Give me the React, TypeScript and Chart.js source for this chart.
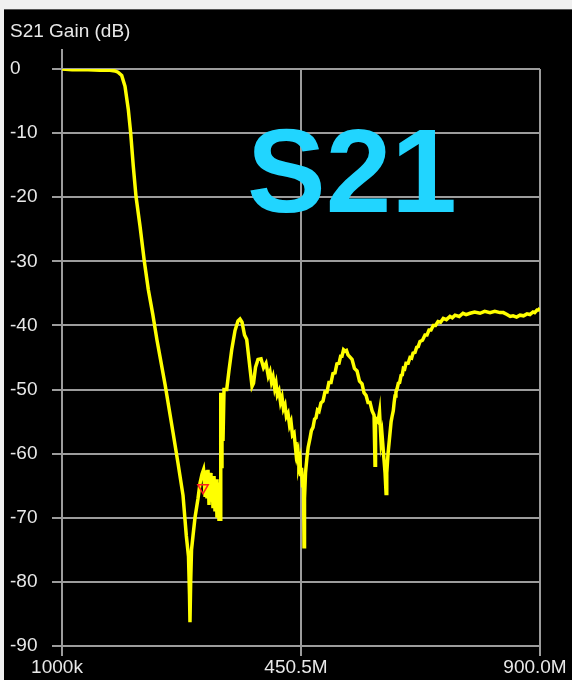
import React, { useEffect, useRef } from 'react';
import { Chart, registerables } from 'chart.js';

Chart.register(...registerables);

// ---- Data ----
const freqMHz = [
  1, 20, 50, 72.5, 91.3, 100.7, 106.3, 113.3, 119.5, 125.7, 130.2, 135.1, 140.2, 147.7,
  155.8, 163.3, 171.6, 179.7, 194.8, 209.8, 219.2, 228.6, 234.8, 238.9, 240.8, 241.7,
  243.0, 244.6, 247.4, 251.1, 256.8, 260.6, 264.3, 267.2, 268.2, 270.0, 271.8, 273.7,
  275.6, 277.5, 279.4, 281.2, 283.1, 285.0, 286.9, 288.8, 290.7, 292.5, 294.4, 296.3,
  298.2, 299.1, 300.0, 300.9, 301.9, 303.8, 305.7, 310.8, 315.1, 320.2, 326.4, 332.0,
  335.8, 339.6, 344.3, 348.4, 353.6, 358.4, 361.2, 365.0, 369.6, 375.3,
  380, 384.7, 389, 392.2, 395, 397.9, 401, 403.5, 406, 409.1, 412, 414.8,
  417.5, 420.4, 423, 426.1, 429, 431.7, 434.5, 437.4, 440, 441.1, 443, 444.9,
  446.5, 448.6, 450, 451.5, 453.4, 455.3, 456.2, 457.1, 459.0, 461.8,
  464, 467.4, 470, 473.1, 476, 478.7, 481.5, 484.4, 488, 491.9, 495.5, 499.4,
  503, 507, 510.5, 514.5, 518, 522, 525, 527.6, 530.5, 533.3, 536, 538.9,
  546.5, 551, 555.9, 560.5, 565.3, 569, 572.8, 576.5, 580.3, 584.1, 587.9, 589.7,
  590.7, 595.4, 598.2, 601.0, 602.9, 605.7, 608.6, 610.5, 611.8, 614.2, 618.0, 620,
  621.8, 624.1, 625.7, 627.3, 629, 631.1, 633.6, 636, 638.7, 641, 643, 645.5,
  648, 652, 655.5, 658.5, 661.2, 665, 668.1, 671, 674.3, 679, 683.7, 687.5,
  691.3, 695, 699.3, 703.5, 708.2, 713, 718.1, 724, 730.7, 735, 740.2, 748,
  755.2, 761, 768.4, 777, 787.2, 796, 806.0, 815, 824.8, 831, 838.0, 844,
  849.3, 856, 862.4, 869, 875.6, 881, 886.9, 890, 894.4, 897, 900,
];
const gainDb = [
  0, -0.1, -0.1, -0.2, -0.2, -0.3, -0.5, -1.0, -2.7, -6.3, -10, -15.2, -19.9, -24.5,
  -30, -34.4, -38.2, -42.3, -49.2, -56.7, -61.5, -66.5, -72.8, -76, -82, -86.3,
  -80, -75, -72.8, -70, -67, -64.6, -63.2, -62.5, -63.5, -66.5, -62.6, -67,
  -62.5, -68, -63, -67.5, -63.5, -68.5, -63.5, -69, -64, -70, -64.5, -70.5,
  -66, -70.5, -50.5, -62, -51, -58, -50, -50, -47, -43.8, -40.8, -39.3,
  -39.0, -39.5, -41.5, -42.2, -46, -49.5, -49, -46.5, -45.3, -45.2,
  -46.6, -45.9, -47.9, -47.2, -48.8, -48.0, -49.8, -49.0, -50.8, -50.2, -52.0, -51.2,
  -53.0, -52.4, -54.2, -53.7, -55.6, -55.0, -57.1, -56.8, -59.0, -58.2, -60.3, -59.7,
  -61.8, -61.0, -63.5, -62.2, -65, -65, -74.5, -67, -63, -60.5,
  -59.0, -57.6, -56.4, -55.9, -54.6, -54.4, -53.2, -53.4, -52.1, -51.8, -50.4, -50.4,
  -48.9, -48.9, -47.5, -47.4, -46.0, -45.9, -44.8, -44.8, -43.8, -44.0, -43.9, -44.6,
  -45.3, -46.7, -47.1, -48.7, -49.1, -50.5, -50.9, -52.0, -52.0, -53.3, -54, -61.8,
  -54.5, -55, -53.5, -58, -57, -60, -63, -66.2, -63, -60, -56.7, -55.0,
  -54.2, -53.3, -52.0, -51.0, -50.4, -49.9, -49.0, -48.9, -47.8, -47.7, -46.7, -46.8,
  -45.9, -45.9, -45.0, -45.1, -44.3, -44.2, -43.4, -43.3, -42.5, -42.3, -41.5, -41.5,
  -40.7, -40.7, -40.0, -40.0, -39.4, -39.5, -38.9, -39.1, -38.6, -38.8, -38.4, -38.6,
  -38.1, -38.3, -38.1, -37.9, -38.1, -37.8, -38.0, -37.8, -38.0, -38.0, -38.3, -38.6,
  -38.5, -38.7, -38.4, -38.5, -38.2, -38.3, -37.9, -38.0, -37.6, -37.6, -37.3,
];
const markerFreq = [266.2];
const markerGain = [-65.3];

const xTickValues = [1, 450.5, 900];
const xTickLabels = ['1000k', '450.5M', '900.0M'];
const yTickValues = [0, -10, -20, -30, -40, -50, -60, -70, -80, -90];

const titleText = 'S21 Gain (dB)';
const bigLabel = 'S21';

const FONT = '"Liberation Sans", Arial, sans-serif';
const GRID = '#9c9c9c';
const TEXT = '#e8e8e8';

const decorPlugin = {
  id: 'decor',
  beforeDraw(chart: any) {
    const ctx = chart.ctx;
    const w = chart.width;
    const h = chart.height;
    ctx.save();
    ctx.fillStyle = '#f0f0f0';
    ctx.fillRect(0, 0, w, h);
    ctx.fillStyle = '#000000';
    ctx.fillRect(4, 10, w - 4, h - 10);
    ctx.fillStyle = '#555555';
    ctx.fillRect(4, 9, w - 4, 1);
    ctx.font = `19px ${FONT}`;
    ctx.fillStyle = TEXT;
    ctx.textBaseline = 'alphabetic';
    ctx.textAlign = 'left';
    ctx.fillText(titleText, 10, 37);
    const { left, top } = chart.chartArea;
    ctx.strokeStyle = GRID;
    ctx.lineWidth = 2;
    ctx.beginPath();
    ctx.moveTo(Math.round(left), top - 20);
    ctx.lineTo(Math.round(left), top);
    ctx.stroke();
    ctx.restore();
  },
  beforeDatasetsDraw(chart: any) {
    const ctx = chart.ctx;
    ctx.save();
    ctx.font = `bold 118px ${FONT}`;
    ctx.fillStyle = '#21d5ff';
    ctx.textBaseline = 'alphabetic';
    ctx.textAlign = 'left';
    ctx.fillText(bigLabel, 247, 212);
    ctx.restore();
  },
};

export default function App() {
  const ref = useRef<HTMLCanvasElement | null>(null);
  useEffect(() => {
    if (!ref.current) return;
    const chart = new Chart(ref.current, {
      type: 'line',
      data: {
        datasets: [
          {
            data: freqMHz.map((f, i) => ({ x: f, y: gainDb[i] })),
            borderColor: '#ffff00',
            borderWidth: 3.5,
            pointRadius: 0,
            tension: 0,
            order: 2,
          },
          {
            data: markerFreq.map((f, i) => ({ x: f, y: markerGain[i] })),
            showLine: false,
            pointStyle: 'triangle',
            rotation: 180,
            pointRadius: 6,
            borderColor: '#ff2020',
            backgroundColor: 'rgba(0,0,0,0)',
            borderWidth: 1.5,
            order: 1,
          },
        ],
      },
      options: {
        animation: false,
        responsive: false,
        devicePixelRatio: 1,
        layout: { padding: { left: 10, top: 69, right: 32, bottom: 0 } },
        plugins: {
          legend: { display: false },
          tooltip: { enabled: false },
          title: { display: false },
        },
        scales: {
          x: {
            type: 'linear',
            min: 1,
            max: 900,
            afterBuildTicks: (s: any) => {
              s.ticks = xTickValues.map((v) => ({ value: v }));
            },
            afterFit: (s: any) => {
              s.height = 34;
              s.paddingLeft = 0;
              s.paddingRight = 0;
            },
            ticks: {
              callback: (v: any) => xTickLabels[xTickValues.indexOf(Number(v))],
              color: TEXT,
              font: { family: FONT, size: 19 },
              labelOffset: -5,
              padding: 0,
              maxRotation: 0,
              autoSkip: false,
            },
            grid: { color: GRID, lineWidth: 2, tickLength: 10 },
            border: { color: GRID, width: 2 },
          },
          y: {
            type: 'linear',
            min: -90,
            max: 0,
            afterBuildTicks: (s: any) => {
              s.ticks = yTickValues.map((v) => ({ value: v }));
            },
            afterFit: (s: any) => {
              s.width = 52;
              s.paddingTop = 0;
              s.paddingBottom = 0;
            },
            ticks: {
              callback: (v: any) => String(v),
              color: TEXT,
              font: { family: FONT, size: 19 },
              crossAlign: 'far',
              autoSkip: false,
            },
            grid: { color: GRID, lineWidth: 2, tickLength: 10 },
            border: { color: GRID, width: 2 },
          },
        },
      },
      plugins: [decorPlugin],
    } as any);
    return () => chart.destroy();
  }, []);

  return (
    <div style={{ position: 'fixed', left: 0, top: 0, width: 572, height: 680 }}>
      <canvas ref={ref} width={572} height={680} style={{ display: 'block', width: 572, height: 680 }} />
    </div>
  );
}
